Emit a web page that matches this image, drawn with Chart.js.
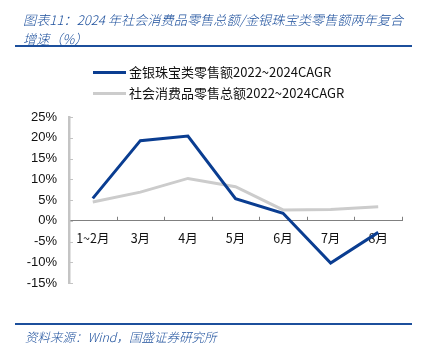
<!DOCTYPE html>
<html><head><meta charset="utf-8">
<script src="https://cdn.jsdelivr.net/npm/chart.js@4"></script>
<style>
html,body{margin:0;padding:0;background:#fff;}
#wrap{position:relative;width:422px;height:357px;overflow:hidden;}
canvas{position:absolute;left:0;top:0;}
.t{position:absolute;font-family:"Noto Sans CJK SC";font-style:italic;font-weight:300;color:#1c4f9c;white-space:nowrap;}
.rule{position:absolute;left:15px;width:397px;height:2px;background:#1c4f9c;}
.lg{position:absolute;left:93px;font-family:"Noto Sans CJK SC";font-size:13px;color:#111;white-space:nowrap;}
.lg span{display:inline-block;width:33px;height:3px;vertical-align:middle;margin-right:3px;position:relative;top:-1px;}
</style></head>
<body><div id="wrap">
<canvas id="c" width="422" height="357"></canvas>
<div class="t" style="left:23px;top:10px;font-size:13.2px;line-height:19px;">图表11：2024 年社会消费品零售总额/金银珠宝类零售额两年复合<br>增速（%）</div>
<div class="rule" style="top:45px;"></div>
<div class="lg" style="top:62px;"><span style="background:#0a3d91"></span>金银珠宝类零售额2022~2024CAGR</div>
<div class="lg" style="top:83px;"><span style="background:#cccccc"></span>社会消费品零售总额2022~2024CAGR</div>
<div class="rule" style="top:323px;"></div>
<div class="t" style="left:25px;top:327px;font-size:12.5px;">资料来源：Wind，国盛证券研究所</div>
</div>
<script>
const categories = ["1~2月","3月","4月","5月","6月","7月","8月"];
const jewelryCAGR = [5.4, 19.3, 20.4, 5.3, 1.8, -10.2, -2.8];
const retailCAGR = [4.5, 6.9, 10.2, 8.2, 2.6, 2.7, 3.4];
const yTicks = [25, 20, 15, 10, 5, 0, -5, -10, -15];

const tickMarks = {
  id: 'tickMarks',
  afterDraw(chart) {
    const ctx = chart.ctx, x = chart.scales.x, y = chart.scales.y;
    const y0 = y.getPixelForValue(0);
    ctx.save();
    ctx.strokeStyle = '#808080'; ctx.lineWidth = 1;
    for (let i = 0; i < categories.length; i++) {
      const px = i < categories.length - 1 ? (x.getPixelForValue(i) + x.getPixelForValue(i + 1)) / 2 : x.right;
      ctx.beginPath(); ctx.moveTo(Math.round(px) + 0.5, y0); ctx.lineTo(Math.round(px) + 0.5, y0 - 4); ctx.stroke();
    }
    ctx.strokeStyle = '#c4c4c4';
    yTicks.forEach(v => {
      const py = Math.round(y.getPixelForValue(v)) + 0.5;
      ctx.beginPath(); ctx.moveTo(y.right, py); ctx.lineTo(y.right + 4, py); ctx.stroke();
    });
    ctx.restore();
  }
};

new Chart(document.getElementById('c'), {
  type: 'line',
  data: {
    labels: categories,
    datasets: [
      { label: '金银珠宝类零售额2022~2024CAGR', data: jewelryCAGR, borderColor: '#0a3d91', borderWidth: 3, pointRadius: 0, tension: 0, order: 1 },
      { label: '社会消费品零售总额2022~2024CAGR', data: retailCAGR, borderColor: '#cccccc', borderWidth: 3, pointRadius: 0, tension: 0, order: 2 }
    ]
  },
  options: {
    responsive: false, animation: false,
    layout: { padding: { top: 117, bottom: 74, right: 20, left: 0 } },
    plugins: { legend: { display: false }, tooltip: { enabled: false } },
    scales: {
      x: {
        position: { y: 0 },
        offset: true,
        grid: { display: false, drawTicks: false },
        border: { color: '#808080', width: 1 },
        ticks: { color: '#111', padding: 10, font: { family: '"Noto Sans CJK SC"', size: 12.5 }, maxRotation: 0 }
      },
      y: {
        min: -15, max: 25,
        afterFit(s) { s.width = 69; },
        afterBuildTicks(s) { s.ticks = yTicks.map(v => ({ value: v })); },
        grid: { display: true, drawOnChartArea: false, drawTicks: false },
        border: { color: '#c4c4c4', width: 2.5 },
        ticks: { color: '#111', padding: 12, font: { family: '"Liberation Sans"', size: 13 }, callback: v => v + '%' }
      }
    }
  },
  plugins: [tickMarks]
});
</script>
</body></html>
